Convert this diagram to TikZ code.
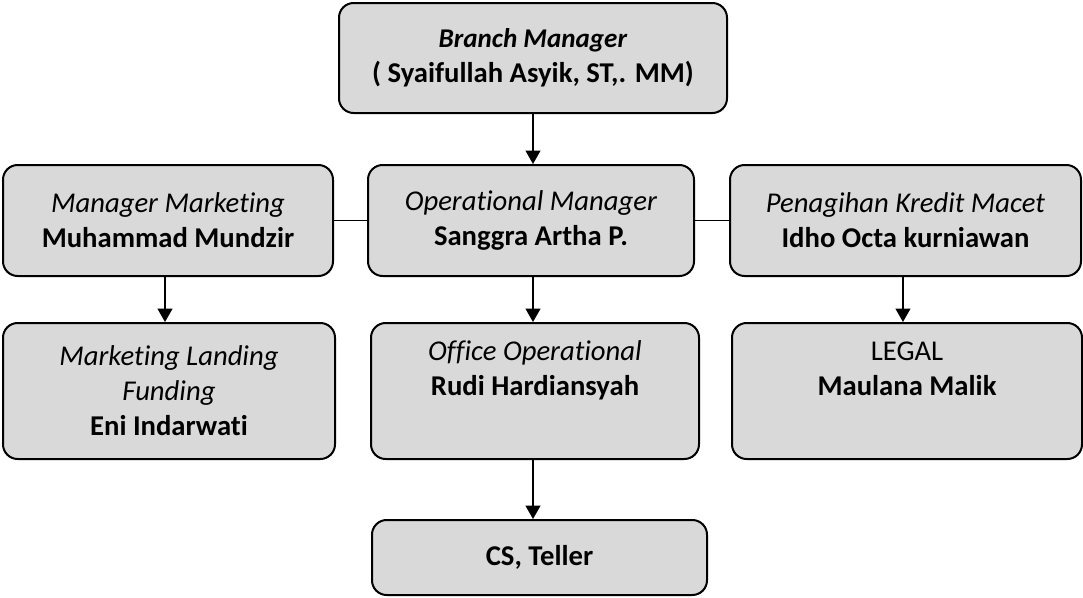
\documentclass[tikz,border=0pt]{standalone}
\usepackage{fontspec}
\setmainfont{Carlito}[Ligatures=NoCommon]
\usetikzlibrary{arrows.meta}
\definecolor{boxgray}{RGB}{217,217,217}
\begin{document}
\begin{tikzpicture}[x=0.75pt,y=-0.75pt,
  box/.style={draw=black, fill=boxgray, line width=1.5pt, rounded corners=11pt, align=center, inner sep=0pt, font=\fontsize{21.5}{26.25}\selectfont},
  conn/.style={line width=1.4pt},
  arr/.style={conn,-{Triangle[length=10pt,width=11pt]}}]
\useasboundingbox (0,0) rectangle (1083,597);
\node[box, minimum width=291pt, minimum height=82.5pt] (bm) at (533,58) {{\fontsize{20.3}{26.25}\selectfont\textbf{\textit{Branch Manager}}}\\\textbf{( Syaifullah Asyik, ST,. MM)}};
\node[box, minimum width=247.5pt, minimum height=83.25pt] (mm) at (168,220.5) {\textit{Manager Marketing}\\\textbf{Muhammad Mundzir}};
\node[box, minimum width=244.5pt, minimum height=83.25pt] (om) at (531,220.5) {\textit{Operational Manager}\\\textbf{Sanggra Artha P.}};
\node[box, minimum width=263.25pt, minimum height=83.25pt] (pk) at (905.5,220.5) {\textit{Penagihan Kredit Macet}\\\textbf{Idho Octa kurniawan}};
\node[box, minimum width=249pt, minimum height=102pt] (ml) at (169,391) {\textit{Marketing Landing}\\\textit{Funding}\\\textbf{Eni Indarwati}};
\node[box, minimum width=246pt, minimum height=102pt] (oo) at (535,391) {\textit{Office Operational}\\\textbf{Rudi Hardiansyah}\\\strut};
\node[box, minimum width=262.5pt, minimum height=102pt] (lg) at (907,391) {LEGAL\\\textbf{Maulana Malik}\\\strut};
\node[box, minimum width=251.25pt, minimum height=56.25pt] (cs) at (539.5,557.5) {\textbf{CS, Teller}};
\draw[arr] (bm.south) -- (bm.south |- om.north);
\draw[conn] (mm.east) -- (om.west);
\draw[conn] (om.east) -- (pk.west);
\draw[arr] ([xshift=-2.25pt]mm.south) -- ([xshift=-2.25pt]mm.south |- ml.north);
\draw[arr] ([xshift=1.5pt]om.south) -- ([xshift=1.5pt]om.south |- oo.north);
\draw[arr] ([xshift=-1.9pt]pk.south) -- ([xshift=-1.9pt]pk.south |- lg.north);
\draw[arr] ([xshift=-1.5pt]oo.south) -- ([xshift=-1.5pt]oo.south |- cs.north);
\end{tikzpicture}
\end{document}
